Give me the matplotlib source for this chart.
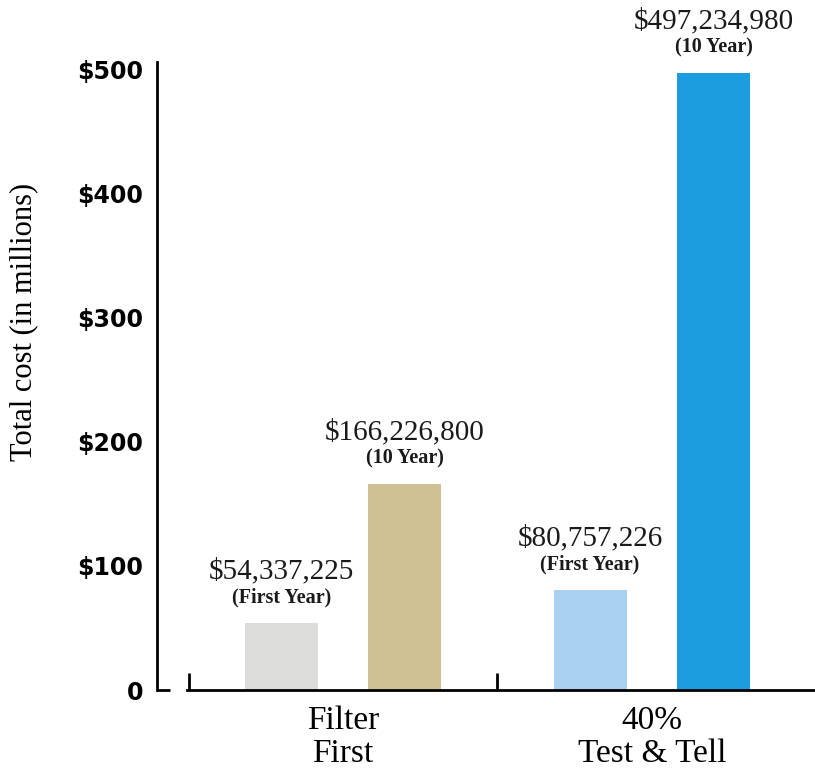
import matplotlib.pyplot as plt
import numpy as np

groups = ["Filter\nFirst", "40%\nTest & Tell"]
first_year = [54.337225, 80.757226]
ten_year = [166.2268, 497.23498]
first_labels = ["$54,337,225", "$80,757,226"]
ten_labels = ["$166,226,800", "$497,234,980"]
first_colors = ["#dcdcda", "#a9d0ef"]
ten_colors = ["#cfc194", "#1b9ddf"]
yticks = [0, 100, 200, 300, 400, 500]
ytick_labels = ["0", "$100", "$200", "$300", "$400", "$500"]

serif = "Liberation Serif"

fig = plt.figure(figsize=(8.15, 7.68), dpi=100)
ax = fig.add_axes([157 / 815, 78 / 768, 658 / 815, 628 / 768])

x = np.arange(len(groups))
off = 0.2
width = 0.236

bars1 = ax.bar(x - off, first_year, width, color=first_colors)
bars2 = ax.bar(x + off, ten_year, width, color=ten_colors)

for bars, vals, sub in [(bars1, first_labels, "(First Year)"), (bars2, ten_labels, "(10 Year)")]:
    for b, txt in zip(bars, vals):
        cx = b.get_x() + b.get_width() / 2
        top = b.get_height()
        ax.annotate(txt, (cx, top), xytext=(0, 37), textcoords="offset points",
                    ha="center", va="center", fontsize=21, family=serif, color="#1a1a1a")
        ax.annotate(sub, (cx, top), xytext=(0, 18), textcoords="offset points",
                    ha="center", va="center", fontsize=14.5, family=serif,
                    fontweight="bold", color="#1a1a1a")

ax.set_xlim(-0.602, 1.528)
ax.set_ylim(0, 506)

ax.yaxis.remove_overlapping_locs = False
ax.set_yticks(yticks)
ax.set_yticklabels(ytick_labels, fontsize=17, fontweight="bold", family="DejaVu Sans")
ax.tick_params(axis="y", length=0, pad=10)
ax.set_yticks([0], minor=True)
ax.tick_params(axis="y", which="minor", direction="in", length=9, width=2)

ax.set_xticks([-0.5, 0.5])
ax.set_xticklabels([])
ax.tick_params(axis="x", direction="in", length=12, width=2)
ax.set_xticks(x, minor=True)
ax.set_xticklabels(groups, minor=True, fontsize=24, family=serif, linespacing=1.1)
ax.tick_params(axis="x", which="minor", length=0, pad=11)

ax.spines["top"].set_visible(False)
ax.spines["right"].set_visible(False)
ax.spines["left"].set_linewidth(2)
ax.spines["bottom"].set_linewidth(2)
ax.spines["bottom"].set_bounds(-0.505, 1.528)

ax.set_ylabel("Total cost (in millions)", fontsize=22, family=serif)
ax.yaxis.set_label_coords(-0.181, 0.586)

fig.savefig("out.png", dpi=100)
